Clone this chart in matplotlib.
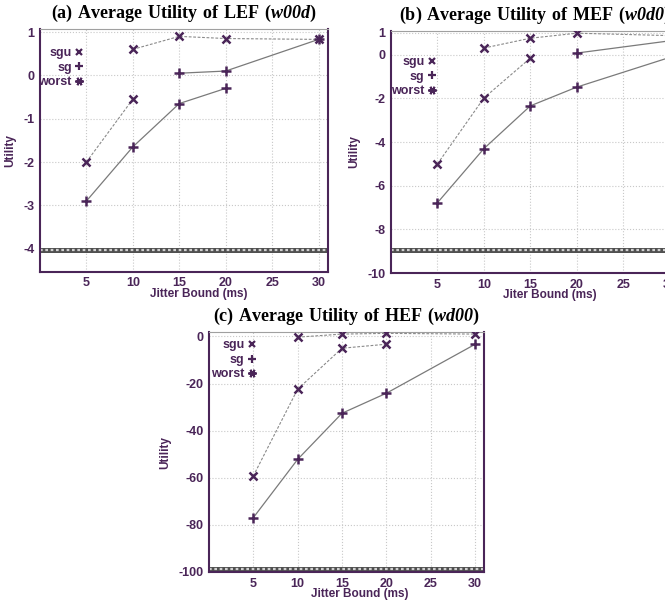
import numpy as np
import matplotlib
matplotlib.use('Agg')
import matplotlib.pyplot as plt
from matplotlib.lines import Line2D

plt.rcParams['font.family'] = 'Liberation Sans'
plt.rcParams['axes.unicode_minus'] = False
plt.rcParams['mathtext.fontset'] = 'custom'
plt.rcParams['mathtext.rm'] = 'Liberation Serif:bold'
plt.rcParams['mathtext.bfit'] = 'Liberation Serif:italic:bold'

ink = '#4a2558'
line_col = '#7a7a7a'

jitter = [5, 10, 15, 20, 25, 30]

# (a) LEF
a_sgu_lo_x = [5, 10]
a_sgu_lo = [-2.0, -0.55]
a_sgu_hi_x = [10, 15, 20, 30]
a_sgu_hi = [0.6, 0.9, 0.85, 0.83]
a_sg_hi_x = [15, 20, 30]
a_sg_hi = [0.05, 0.1, 0.83]
a_sg_lo_x = [5, 10, 15, 20]
a_sg_lo = [-2.9, -1.65, -0.65, -0.3]
a_worst = -4.02

# (b) MEF
b_sgu_lo_x = [5, 10, 15]
b_sgu_lo = [-5.0, -1.98, -0.15]
b_sgu_hi_x = [10, 15, 20, 30]
b_sgu_hi = [0.31, 0.76, 0.99, 0.88]
b_sg_hi_x = [20, 30]
b_sg_hi = [0.08, 0.64]
b_sg_lo_x = [5, 10, 15, 20, 30]
b_sg_lo = [-6.78, -4.3, -2.34, -1.48, -0.12]
b_worst = -8.95

# (c) HEF
c_sgu_lo_x = [5, 10, 15, 20]
c_sgu_lo = [-59.3, -22.4, -5.0, -3.3]
c_sgu_hi_x = [10, 15, 20, 30]
c_sgu_hi = [-0.3, 1.0, 1.3, 1.0]
c_sg_lo_x = [5, 10, 15, 20, 30]
c_sg_lo = [-77.0, -52.2, -32.6, -24.1, -3.3]
c_worst = -98.8


def draw(ax, title, xlabel, yticks, ylim, worst, sgu, sg, leg_pos):
    ax.set_xlim(0, 31)
    ax.set_ylim(*ylim)
    ax.set_xticks(jitter)
    ax.set_yticks(yticks)
    ax.grid(True, color='#c8c8c8', linestyle=':', linewidth=0.8)
    ax.axhline(worst, color='#505050', linewidth=3.6, zorder=2)
    ax.axhline(worst, color='#d0d0d0', linewidth=1.6, linestyle=(0, (1.2, 1.2)), zorder=2)
    for xs, ys in sgu:
        ax.plot(xs, ys, color='#8a8a8a', linestyle='--', linewidth=0.8, dashes=(2.5, 1.5),
                marker='x', markersize=6, markeredgewidth=1.8,
                markeredgecolor=ink, zorder=3)
    for xs, ys in sg:
        ax.plot(xs, ys, color=line_col, linestyle='-', linewidth=0.9,
                marker='+', markersize=7, markeredgewidth=1.8,
                markeredgecolor=ink, zorder=3)
    for s in ['left', 'bottom', 'right']:
        ax.spines[s].set_color(ink)
        ax.spines[s].set_linewidth(1.5)
    ax.spines['top'].set_color('#a0a0a0')
    ax.spines['top'].set_linewidth(0.8)
    ax.tick_params(length=0, colors=ink, labelsize=9, pad=4)
    for lab in ax.get_xticklabels() + ax.get_yticklabels():
        lab.set_fontweight('bold')
    ax.set_xlabel(xlabel, color=ink, fontsize=8.5, fontweight='bold', labelpad=0)
    ax.xaxis.set_label_coords(0.55, -0.068)
    ax.set_ylabel('Utility', color=ink, fontsize=8.5, fontweight='bold', labelpad=5)
    ax.set_title(title, fontsize=13, color='black', pad=8)
    handles = [
        Line2D([], [], linestyle='none', marker='x', markersize=5, markeredgewidth=1.6, color=ink),
        Line2D([], [], linestyle='none', marker='+', markersize=6, markeredgewidth=1.6, color=ink),
        Line2D([], [], linestyle='none', marker=(6, 2, 90), markersize=6, markeredgewidth=1.4, color=ink),
    ]
    leg = ax.legend(handles, ['sgu', 'sg', 'worst'], loc='upper right', markerfirst=False,
                    frameon=False, handlelength=0.6, handletextpad=0.3, labelspacing=0.2,
                    borderaxespad=0, borderpad=0, fontsize=9, bbox_to_anchor=leg_pos)
    for t in leg.get_texts():
        t.set_color(ink)
        t.set_fontweight('bold')
    leg._legend_box.align = 'right'
    return leg


fig = plt.figure(figsize=(6.65, 6.04), dpi=100)

ax1 = fig.add_axes([0.060, 0.550, 0.433, 0.402])
draw(ax1, r'$\mathrm{(a)\ Average\ Utility\ of\ LEF\ (}\mathbfit{w00d}\mathrm{)}$',
     'Jitter Bound (ms)', [-4, -3, -2, -1, 0, 1], (-4.53, 1.07), a_worst,
     [(a_sgu_lo_x, a_sgu_lo), (a_sgu_hi_x, a_sgu_hi)],
     [(a_sg_lo_x, a_sg_lo), (a_sg_hi_x, a_sg_hi)], (0.15, 0.925))

ax2 = fig.add_axes([0.588, 0.548, 0.433, 0.401])
draw(ax2, r'$\mathrm{(b)\ Average\ Utility\ of\ MEF\ (}\mathbfit{w0d0}\mathrm{)}$',
     'Jiter Bound (ms)', [-10, -8, -6, -4, -2, 0, 1], (-10, 1.1), b_worst,
     [(b_sgu_lo_x, b_sgu_lo), (b_sgu_hi_x, b_sgu_hi)],
     [(b_sg_lo_x, b_sg_lo), (b_sg_hi_x, b_sg_hi)], (0.155, 0.895))

ax3 = fig.add_axes([0.314, 0.053, 0.414, 0.397])
draw(ax3, r'$\mathrm{(c)\ Average\ Utility\ of\ HEF\ (}\mathbfit{wd00}\mathrm{)}$',
     'Jitter Bound (ms)', [-100, -80, -60, -40, -20, 0], (-100, 1.8), c_worst,
     [(c_sgu_lo_x, c_sgu_lo), (c_sgu_hi_x, c_sgu_hi)],
     [(c_sg_lo_x, c_sg_lo)], (0.17, 0.97))

fig.savefig('out.png', dpi=100)
